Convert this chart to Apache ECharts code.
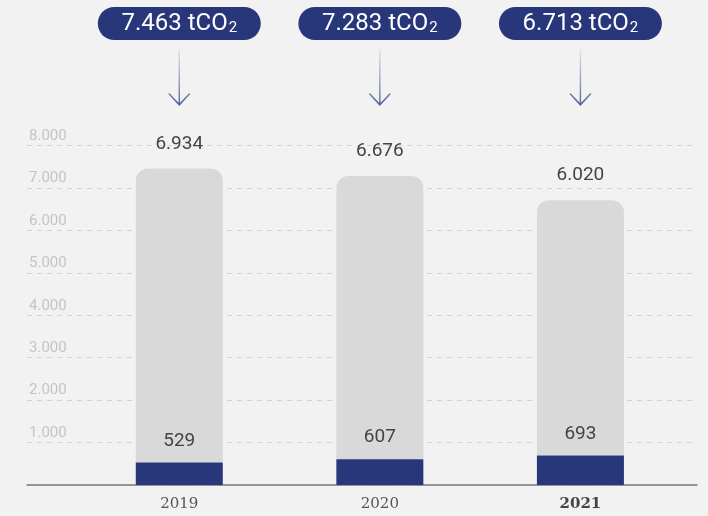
<!DOCTYPE html>
<html>
<head>
<meta charset="utf-8">
<script src="https://cdn.jsdelivr.net/npm/echarts@6/dist/echarts.min.js"></script>
<style>
  html, body { margin: 0; padding: 0; background: #f2f2f2; }
  #chart { width: 708px; height: 516px; }
</style>
</head>
<body>
<div id="chart"></div>
<script>
var years = ['2019', '2020', '2021'];
var scope12 = [529, 607, 693];      // navy, bottom
var scope3 = [6934, 6676, 6020];    // gray, top
var totals = [7463, 7283, 6713];    // pills
var yTicks = [0, 1000, 2000, 3000, 4000, 5000, 6000, 7000, 8000];

var navy = '#28367a';

function fmt(v) {
  return String(v).replace(/\B(?=(\d{3})+(?!\d))/g, '.');
}

var chart = echarts.init(document.getElementById('chart'));

var option = {
  backgroundColor: '#f2f2f2',
  animation: false,
  textStyle: { fontFamily: 'Roboto' },
  grid: [
    // background grid: gridlines + axis line
    { left: 27, right: 11, top: 145.6, bottom: 31 },
    // bars
    { left: 79, right: 27.3, top: 145.6, bottom: 31 },
    // pills + arrows
    { left: 79, right: 27.3, top: 0, height: 110 }
  ],
  xAxis: [
    {
      gridIndex: 0, type: 'category', data: years,
      axisLine: { lineStyle: { color: '#7a7a7a', width: 1.5 } },
      axisTick: { show: false }, axisLabel: { show: false }
    },
    {
      gridIndex: 1, type: 'category', data: years,
      axisLine: { show: false }, axisTick: { show: false },
      axisLabel: {
        color: '#555', fontSize: 15, margin: 12, fontFamily: 'DejaVu Serif',
        formatter: function (v, i) {
          return i === years.length - 1 ? '{b|' + v + '}' : v;
        },
        rich: { b: { fontWeight: 'bold', fontSize: 15, color: '#444', fontFamily: 'DejaVu Serif' } }
      }
    },
    { gridIndex: 2, type: 'category', data: years, show: false }
  ],
  yAxis: [
    {
      gridIndex: 0, type: 'value', min: yTicks[0], max: yTicks[yTicks.length - 1], interval: 1000,
      axisLine: { show: false }, axisTick: { show: false },
      splitLine: { lineStyle: { color: '#d2d2d2', type: [5, 5], width: 1 } },
      axisLabel: {
        inside: true, margin: 2, showMinLabel: false,
        color: '#c4c4c4', fontSize: 15, verticalAlign: 'bottom',
        padding: [0, 0, 2, 0],
        formatter: function (v) { return fmt(v); }
      }
    },
    { gridIndex: 1, type: 'value', min: yTicks[0], max: yTicks[yTicks.length - 1], show: false },
    { gridIndex: 2, type: 'value', min: 0, max: 110, inverse: true, show: false }
  ],
  series: [
    {
      name: 'scope12', type: 'bar', xAxisIndex: 1, yAxisIndex: 1,
      stack: 'total', barWidth: 87, data: scope12,
      itemStyle: { color: navy },
      label: {
        show: true, position: 'top', distance: 12,
        color: '#444', fontSize: 19,
        formatter: function (p) { return fmt(p.value); }
      },
      z: 3
    },
    {
      name: 'scope3', type: 'bar', xAxisIndex: 1, yAxisIndex: 1,
      stack: 'total', barWidth: 87, data: scope3,
      itemStyle: { color: '#d9d9d9', borderRadius: [12, 12, 0, 0] },
      label: {
        show: true, position: 'top', distance: 15,
        color: '#444', fontSize: 19,
        formatter: function (p) { return fmt(p.value); }
      },
      z: 2
    },
    {
      name: 'pills', type: 'scatter', xAxisIndex: 2, yAxisIndex: 2,
      symbolSize: 1, itemStyle: { color: 'rgba(0,0,0,0)', opacity: 1 },
      data: totals.map(function (t, i) { return [years[i], 23.5, t]; }),
      label: {
        show: true, position: 'inside', opacity: 1,
        backgroundColor: navy, borderRadius: 17,
        width: 127, height: 33, padding: [0, 18, 0, 18], align: 'center',
        formatter: function (p) { return '{a|' + fmt(p.value[2]) + ' tCO}{s|2}'; },
        rich: {
          a: { color: '#fff', fontSize: 24, lineHeight: 33, verticalAlign: 'middle' },
          s: { color: '#fff', fontSize: 15, lineHeight: 33, padding: [10, 0, 0, 1] }
        }
      },
      emphasis: { disabled: true },
      z: 5
    },
    {
      name: 'arrows', type: 'scatter', xAxisIndex: 2, yAxisIndex: 2,
      symbol: 'path://M10.3 0 L11.7 0 L11.7 54 L10.3 54 Z M0 43.5 L1 42.5 L11 53 L21 42.5 L22 43.5 L11 55.5 Z',
      symbolSize: [22, 56],
      data: years.map(function (y) { return [y, 78]; }),
      itemStyle: {
        opacity: 1,
        color: new echarts.graphic.LinearGradient(0, 0, 0, 1, [
          { offset: 0, color: 'rgba(110,122,175,0.15)' },
          { offset: 1, color: '#4f5e9a' }
        ])
      },
      emphasis: { disabled: true },
      z: 4
    }
  ]
};

chart.setOption(option);
</script>
</body>
</html>
